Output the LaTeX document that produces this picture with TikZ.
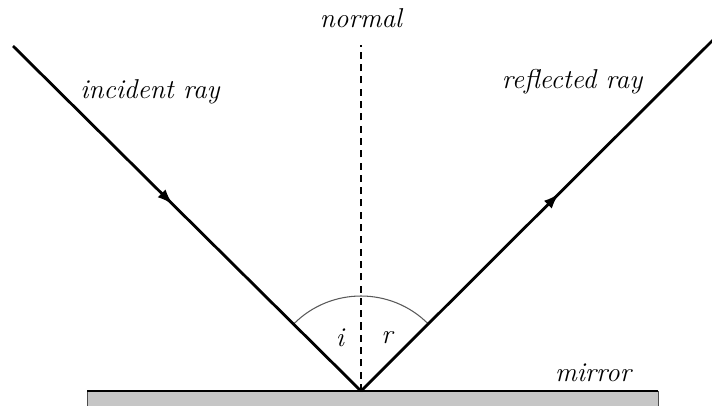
\documentclass[tikz,border=0pt]{standalone}
\usepackage{tikz}
\usetikzlibrary{arrows.meta,decorations.markings,calc}

\begin{document}
\begin{tikzpicture}[
  >=Latex,
  every node/.style={font=\fontsize{15.5}{18}\selectfont\itshape},
  ray/.style={line width=1.6pt,black},
  midarrow/.style={postaction={decorate},decoration={markings,
    mark=at position #1 with {\arrow{Latex[length=3.2mm,width=2.2mm]}}}},
  normalline/.style={line width=1.1pt,dash pattern=on 4pt off 3pt}
]
  \useasboundingbox (0,0) rectangle (14.24,8.10);
  % mirror
  \fill[gray!45,draw=gray!60!black,thin] (1.74,-0.20) rectangle (13.16,0.28);
  \draw[line width=1.3pt] (1.74,0.28) -- (13.16,0.28);
  \node (mirror) at (11.86,0.64) {mirror};

  \coordinate (O) at (7.22,0.28);
  \coordinate (src) at (0.26,7.18);
  \coordinate (dst) at (14.30,7.34);
  \coordinate (ntop) at (7.22,7.20);

  % normal and angle arc
  \draw[normalline] (O) -- (ntop);
  \node (normal) at (7.22,7.74) {normal};
  \draw[gray!70!black,line width=0.6pt]
    ($(O)+(45:1.90)$) arc[start angle=45,end angle=135,radius=1.90];
  \node (i) at (6.80,1.34) {i};
  \node (r) at (7.74,1.34) {r};

  % rays
  \draw[ray,midarrow=0.46] (src) -- (O);
  \draw[ray,midarrow=0.56] (O) -- (dst);
  \node (inc) at (3.00,6.26) {incident ray};
  \node (refl) at (11.44,6.46) {reflected ray};
\end{tikzpicture}
\end{document}
